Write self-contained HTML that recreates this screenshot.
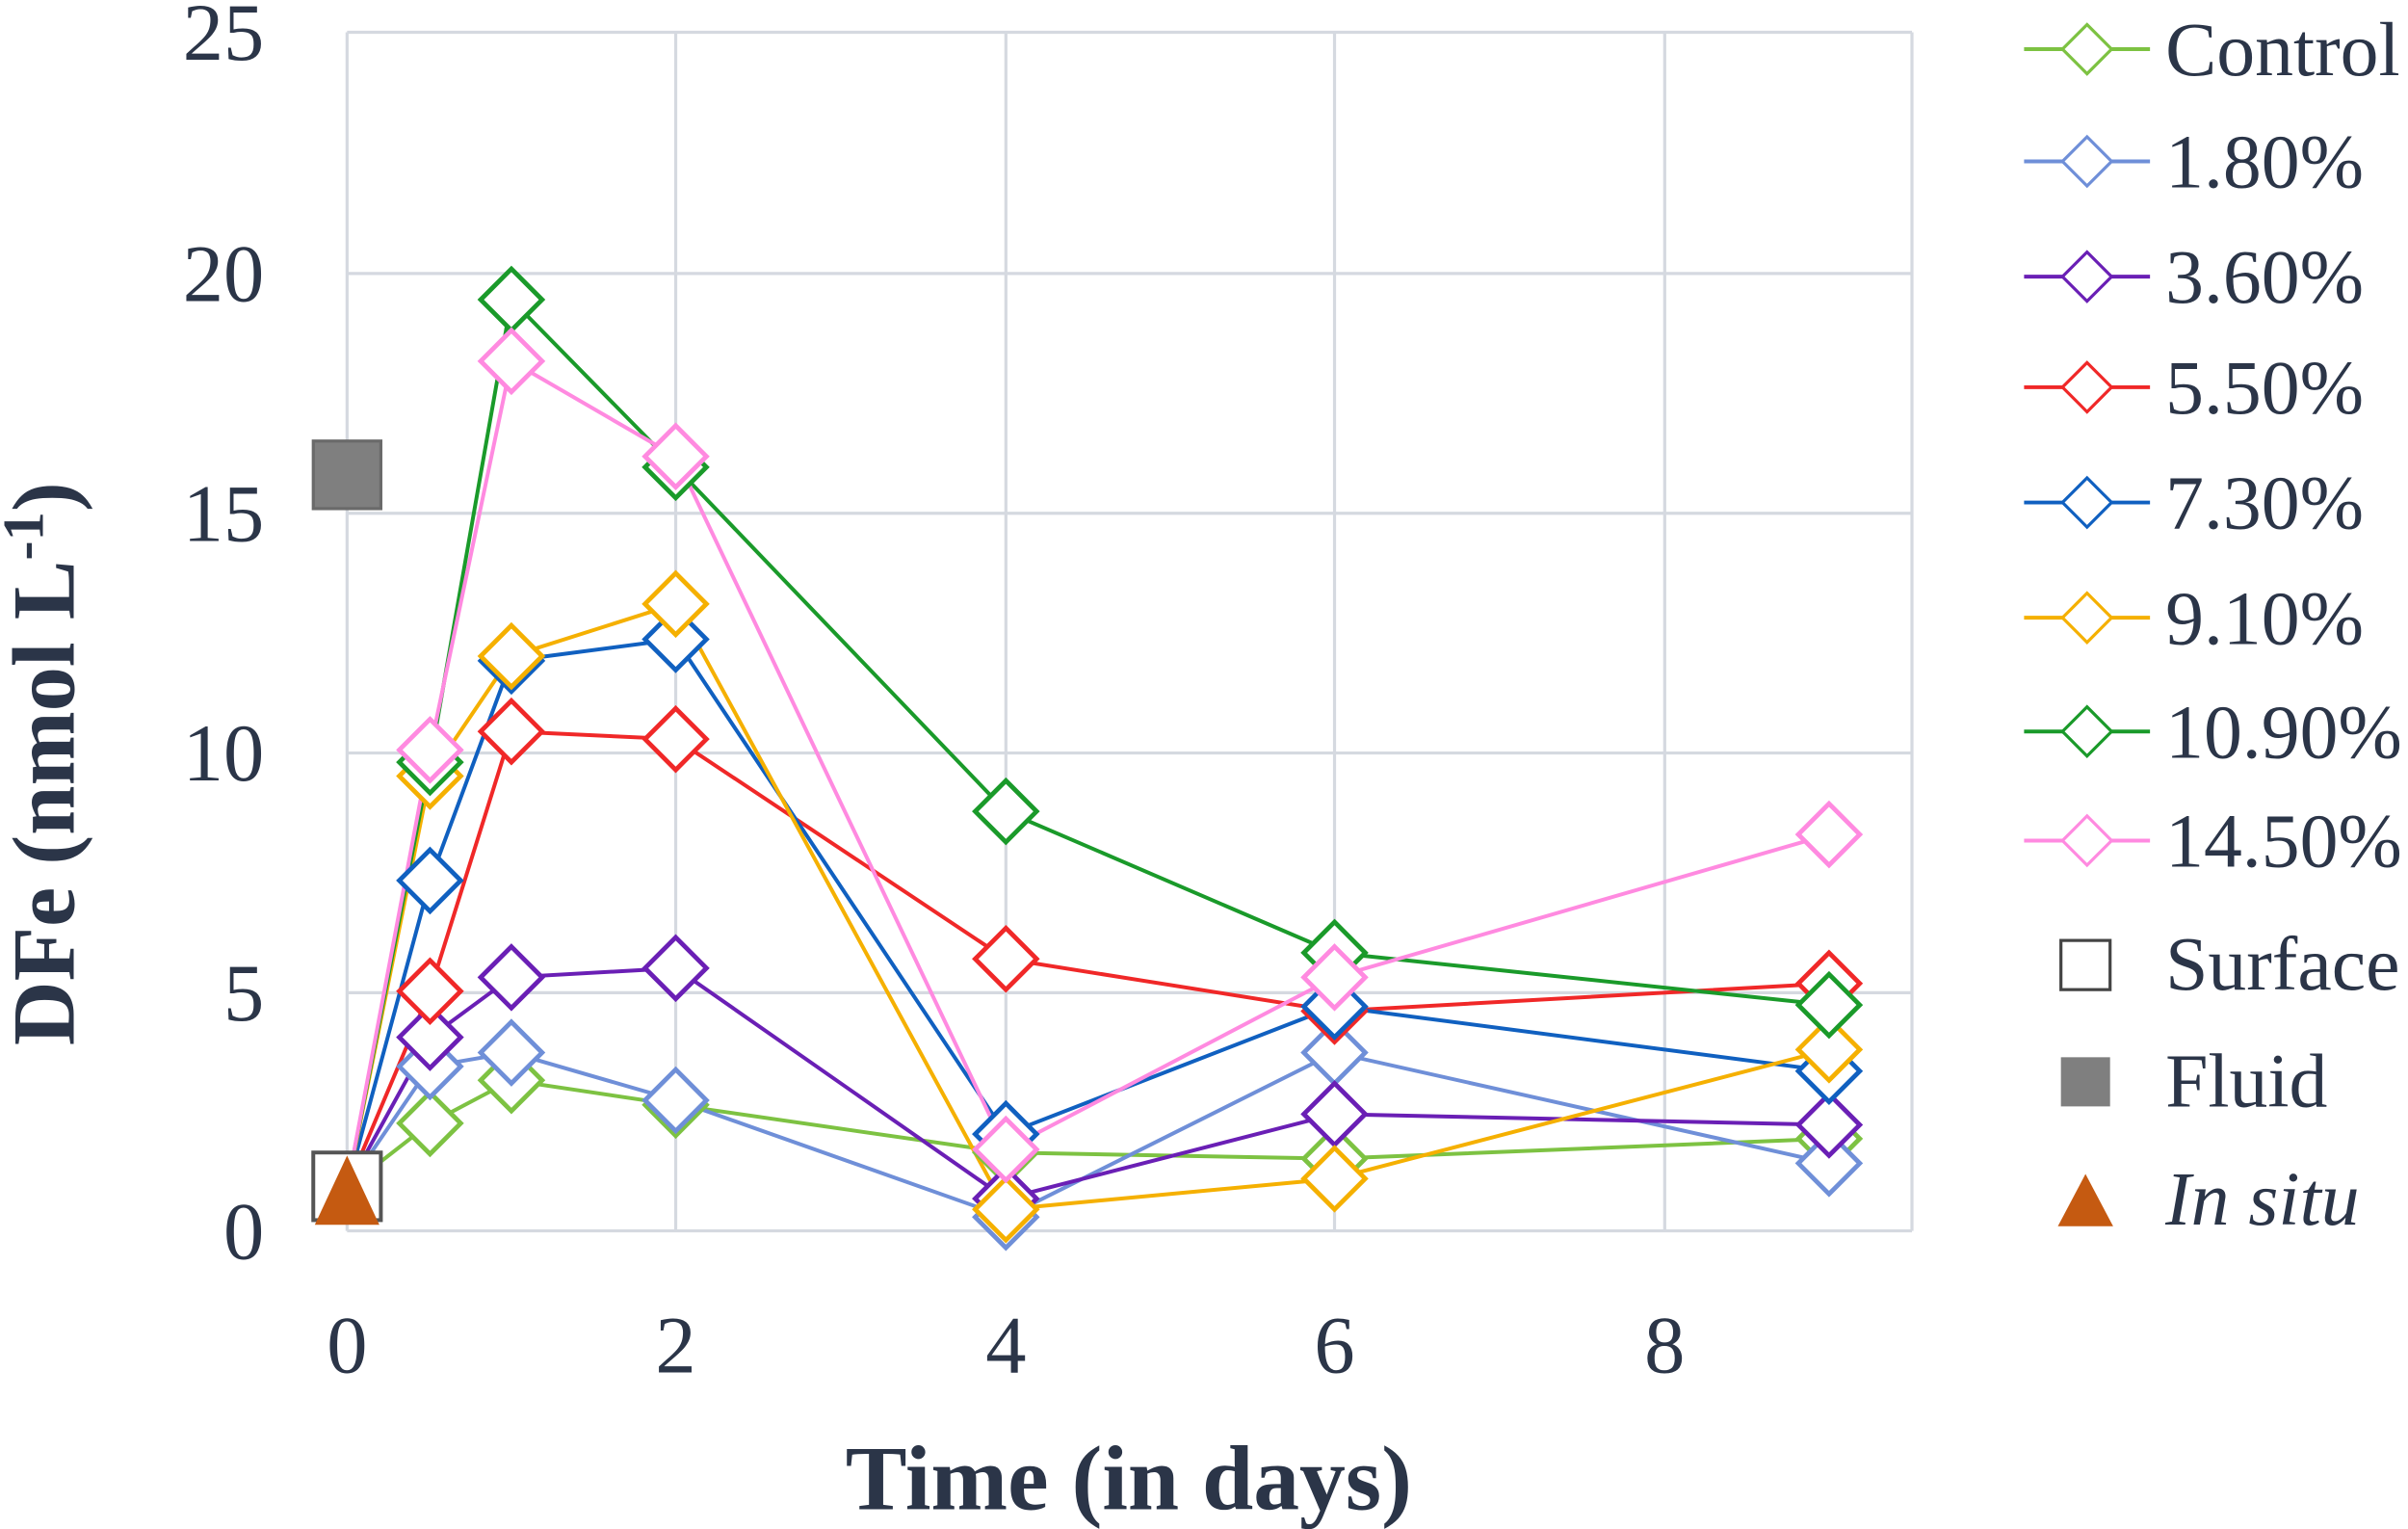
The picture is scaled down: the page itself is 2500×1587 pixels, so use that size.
<!DOCTYPE html>
<html><head><meta charset="utf-8"><style>
html,body{margin:0;padding:0;background:#fff;}
svg{display:block;}
text{font-family:"Liberation Serif",serif;fill:#2b3548;}
</style></head><body>
<svg width="2500" height="1587" viewBox="0 0 1568 995" preserveAspectRatio="none">
<rect width="1568" height="995" fill="#fff"/>
<g stroke="#d5d9e0" stroke-width="2" fill="none">
<line x1="226" y1="21" x2="1245" y2="21"/>
<line x1="226" y1="178" x2="1245" y2="178"/>
<line x1="226" y1="334" x2="1245" y2="334"/>
<line x1="226" y1="490" x2="1245" y2="490"/>
<line x1="226" y1="646" x2="1245" y2="646"/>
<line x1="226" y1="801" x2="1245" y2="801"/>
<line x1="226" y1="21" x2="226" y2="801"/>
<line x1="440" y1="21" x2="440" y2="801"/>
<line x1="655" y1="21" x2="655" y2="801"/>
<line x1="869" y1="21" x2="869" y2="801"/>
<line x1="1084" y1="21" x2="1084" y2="801"/>
<line x1="1245" y1="21" x2="1245" y2="801"/>
</g>
<g font-size="53" text-anchor="end">
<text x="172" y="39">25</text><text x="172" y="196">20</text><text x="172" y="352">15</text>
<text x="172" y="508">10</text><text x="172" y="664">5</text><text x="172" y="819">0</text>
</g>
<g font-size="53" text-anchor="middle">
<text x="226" y="893">0</text><text x="440" y="893">2</text><text x="655" y="893">4</text>
<text x="869" y="893">6</text><text x="1084" y="893">8</text>
</g>
<text x="735" y="982" font-size="60" font-weight="bold" text-anchor="middle">Time (in days)</text>
<text transform="translate(48,497) rotate(-90)" font-size="58" font-weight="bold" text-anchor="middle">DFe (nmol L<tspan font-size="38" dy="-20">-1</tspan><tspan dy="20">)</tspan></text>
<defs><path id="d" d="M0,-20 L20,0 L0,20 L-20,0Z"/></defs>
<g fill="none" stroke-width="2.5">
<polyline stroke="#7dc242" points="226,773 280,731 333,703 440,719 655,750 869,754 1191,741"/>
<polyline stroke="#6f8fd8" points="226,773 280,694 333,685 440,716 655,792 869,685 1191,757"/>
<polyline stroke="#6a1fb5" points="226,773 280,675 333,636 440,630 655,780 869,725 1191,732"/>
<polyline stroke="#f02828" points="226,773 280,645 333,476 440,481 655,624 869,658 1191,640"/>
<polyline stroke="#1060c0" points="226,773 280,573 333,430 440,416 655,738 869,655 1191,697"/>
<polyline stroke="#f5b000" points="226,773 280,505 333,427 440,393 655,787 869,767 1191,683"/>
<polyline stroke="#1a9a2a" points="226,773 280,496 333,195 440,304 655,528 869,620 1191,654"/>
<polyline stroke="#ff8ae0" points="226,773 280,488 333,235 440,297 655,748 869,636 1191,543"/>
</g>
<g fill="#fff" stroke-width="3">
<g stroke="#7dc242"><use href="#d" x="280" y="731"/><use href="#d" x="333" y="703"/><use href="#d" x="440" y="719"/><use href="#d" x="655" y="750"/><use href="#d" x="869" y="754"/><use href="#d" x="1191" y="741"/></g>
<g stroke="#6f8fd8"><use href="#d" x="280" y="694"/><use href="#d" x="333" y="685"/><use href="#d" x="440" y="716"/><use href="#d" x="655" y="792"/><use href="#d" x="869" y="685"/><use href="#d" x="1191" y="757"/></g>
<g stroke="#6a1fb5"><use href="#d" x="280" y="675"/><use href="#d" x="333" y="636"/><use href="#d" x="440" y="630"/><use href="#d" x="655" y="780"/><use href="#d" x="869" y="725"/><use href="#d" x="1191" y="732"/></g>
<g stroke="#f02828"><use href="#d" x="280" y="645"/><use href="#d" x="333" y="476"/><use href="#d" x="440" y="481"/><use href="#d" x="655" y="624"/><use href="#d" x="869" y="658"/><use href="#d" x="1191" y="640"/></g>
<g stroke="#1060c0"><use href="#d" x="280" y="573"/><use href="#d" x="333" y="430"/><use href="#d" x="440" y="416"/><use href="#d" x="655" y="738"/><use href="#d" x="869" y="655"/><use href="#d" x="1191" y="697"/></g>
<g stroke="#f5b000"><use href="#d" x="280" y="505"/><use href="#d" x="333" y="427"/><use href="#d" x="440" y="393"/><use href="#d" x="655" y="787"/><use href="#d" x="869" y="767"/><use href="#d" x="1191" y="683"/></g>
<g stroke="#1a9a2a"><use href="#d" x="280" y="496"/><use href="#d" x="333" y="195"/><use href="#d" x="440" y="304"/><use href="#d" x="655" y="528"/><use href="#d" x="869" y="620"/><use href="#d" x="1191" y="654"/></g>
<g stroke="#ff8ae0"><use href="#d" x="280" y="488"/><use href="#d" x="333" y="235"/><use href="#d" x="440" y="297"/><use href="#d" x="655" y="748"/><use href="#d" x="869" y="636"/><use href="#d" x="1191" y="543"/></g>
</g>
<rect x="204" y="287" width="44" height="44" fill="#7f7f7f" stroke="#6a6a6a" stroke-width="2"/>
<rect x="204" y="750" width="44" height="44" fill="#fff" stroke="#555" stroke-width="2.5"/>
<polygon points="226,752 247,797 205,797" fill="#c55a11"/>
<g font-size="50">
<g stroke-width="2.5" fill="#fff">
<g stroke="#7dc242"><line x1="1318" y1="32" x2="1400" y2="32"/><use href="#d" transform="translate(1359,32) scale(0.8)"/></g>
<g stroke="#6f8fd8"><line x1="1318" y1="105" x2="1400" y2="105"/><use href="#d" transform="translate(1359,105) scale(0.8)"/></g>
<g stroke="#6a1fb5"><line x1="1318" y1="180" x2="1400" y2="180"/><use href="#d" transform="translate(1359,180) scale(0.8)"/></g>
<g stroke="#f02828"><line x1="1318" y1="252" x2="1400" y2="252"/><use href="#d" transform="translate(1359,252) scale(0.8)"/></g>
<g stroke="#1060c0"><line x1="1318" y1="327" x2="1400" y2="327"/><use href="#d" transform="translate(1359,327) scale(0.8)"/></g>
<g stroke="#f5b000"><line x1="1318" y1="402" x2="1400" y2="402"/><use href="#d" transform="translate(1359,402) scale(0.8)"/></g>
<g stroke="#1a9a2a"><line x1="1318" y1="476" x2="1400" y2="476"/><use href="#d" transform="translate(1359,476) scale(0.8)"/></g>
<g stroke="#ff8ae0"><line x1="1318" y1="547" x2="1400" y2="547"/><use href="#d" transform="translate(1359,547) scale(0.8)"/></g>
</g>
<rect x="1342" y="612" width="32" height="32" fill="#fff" stroke="#444" stroke-width="2"/>
<rect x="1342" y="688" width="32" height="32" fill="#7f7f7f"/>
<polygon points="1358,764 1376,798 1340,798" fill="#c55a11"/>
<text x="1410" y="49">Control</text>
<text x="1410" y="122">1.80%</text>
<text x="1410" y="197">3.60%</text>
<text x="1410" y="269">5.50%</text>
<text x="1410" y="344">7.30%</text>
<text x="1410" y="419">9.10%</text>
<text x="1410" y="493">10.90%</text>
<text x="1410" y="564">14.50%</text>
<text x="1410" y="644">Surface</text>
<text x="1410" y="720">Fluid</text>
<text x="1410" y="797" font-style="italic">In situ</text>
</g>
</svg>
</body></html>
